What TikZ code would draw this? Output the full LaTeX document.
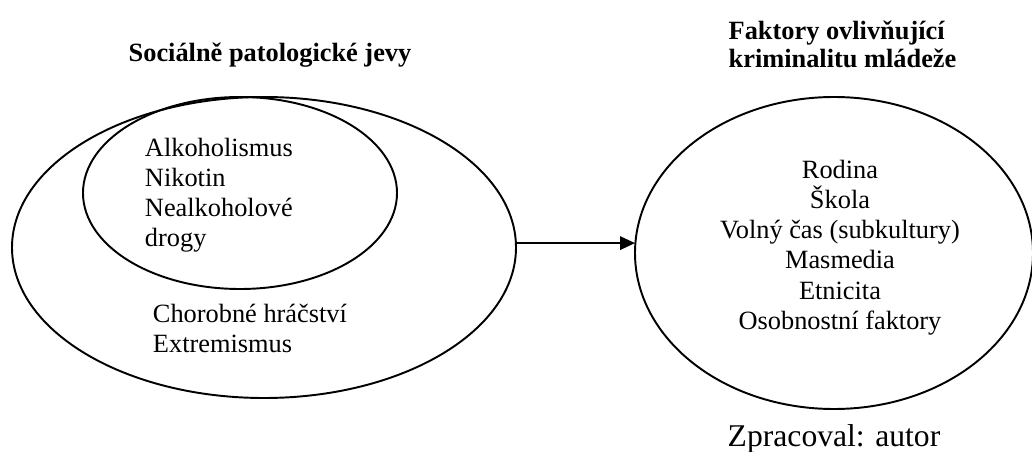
\documentclass[tikz,border=0pt]{standalone}
\usepackage{fontspec}
\setmainfont{Liberation Serif}
\usepackage{tikz}
\usetikzlibrary{positioning,shapes.geometric,arrows.meta}

\begin{document}
\begin{tikzpicture}[line width=1.1pt,
        set node/.style={ellipse, draw, inner sep=0pt, outer sep=0pt},
        item text/.style={inner sep=0pt, font=\fontsize{15}{17.2}\selectfont},
        head text/.style={inner sep=0pt, font=\bfseries\fontsize{15}{16}\selectfont}
        ]
        \useasboundingbox (0,0) rectangle (20.64,-9.04);

        \node [set node, minimum width=10.08cm, minimum height=6.02cm] (jevy) at (5.28,-4.95) {} ;
        \node [set node, minimum width=6.28cm, minimum height=3.84cm] (drogy) at (4.80,-3.86) {} ;
        \node [set node, minimum width=7.96cm, minimum height=6.24cm] (faktory) at (16.68,-5.06) {} ;

        \node [head text] (jevytitle) [above = 0.58cm of jevy, xshift=0.12cm] {Sociálně patologické jevy} ;
        \node [head text, align=left] (faktorytitle) [above = 0.56cm of faktory, xshift=0.17cm]
            {Faktory ovlivňující\\kriminalitu mládeže} ;

        \node [item text, align=left, anchor=north west] (drogylist) at (2.88,-2.74)
            {Alkoholismus\\Nikotin\\Nealkoholové\\drogy} ;
        \node [item text, align=left, anchor=north west] (jevylist) at (3.04,-6.06)
            {Chorobné hráčství\\Extremismus} ;
        \node [item text, align=center, anchor=north] (faktorylist) at (16.80,-3.18)
            {Rodina\\Škola\\Volný čas (subkultury)\\Masmedia\\Etnicita\\Osobnostní faktory} ;

        \node [inner sep=0pt, font=\fontsize{18}{20}\selectfont] (zdroj) [below = 0.3cm of faktory] {Zpracoval: autor} ;

        \path[draw, -{Triangle[length=0.3cm, width=0.27cm]}]
        (jevy.1.2) -- (jevy.1.2 -| faktory.west)
        ;
\end{tikzpicture}
\end{document}
